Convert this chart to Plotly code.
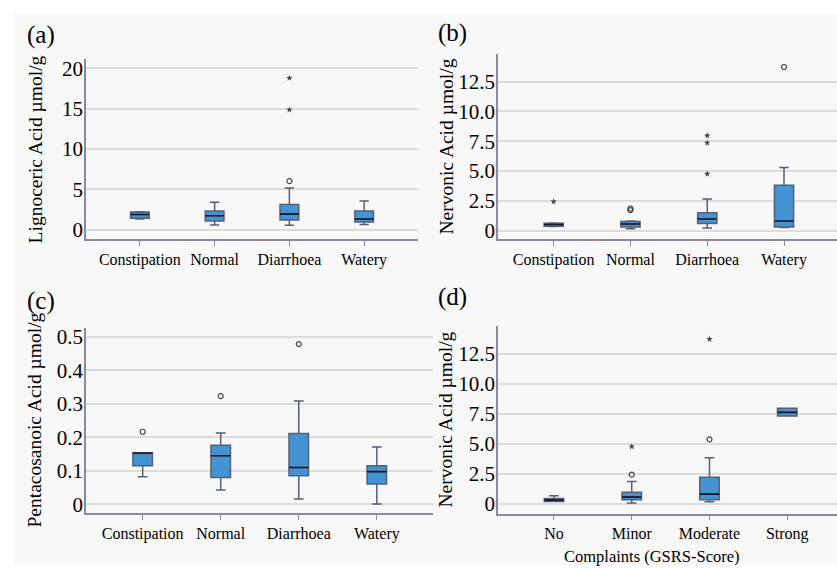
import plotly.graph_objects as go

W, H = 837, 568

# ---------------- data ----------------
stool_categories = ["Constipation", "Normal", "Diarrhoea", "Watery"]
gsrs_categories = ["No", "Minor", "Moderate", "Strong"]

# (a) Lignoceric acid by stool type
lig_q1 = [1.45, 1.10, 1.22, 0.98]
lig_median = [1.90, 1.75, 1.95, 1.34]
lig_q3 = [2.22, 2.32, 3.13, 2.32]
lig_low = [1.35, 0.61, 0.57, 0.65]
lig_high = [2.25, 3.42, 5.17, 3.58]
lig_out_x = ["Diarrhoea"]
lig_out_y = [6.03]
lig_ext_x = ["Diarrhoea", "Diarrhoea"]
lig_ext_y = [14.87, 18.8]

# (b) Nervonic acid by stool type
nerv_q1 = [0.36, 0.30, 0.58, 0.30]
nerv_median = [0.50, 0.55, 0.97, 0.80]
nerv_q3 = [0.61, 0.75, 1.49, 3.79]
nerv_low = [0.34, 0.14, 0.22, 0.25]
nerv_high = [0.63, 0.80, 2.65, 5.28]
nerv_out_x = ["Normal", "Normal", "Watery"]
nerv_out_y = [1.85, 1.72, 13.72]
nerv_ext_x = ["Constipation", "Diarrhoea", "Diarrhoea", "Diarrhoea"]
nerv_ext_y = [2.43, 7.97, 7.36, 4.76]

# (c) Pentacosanoic acid by stool type
pent_q1 = [0.115, 0.080, 0.085, 0.061]
pent_median = [0.153, 0.145, 0.110, 0.0975]
pent_q3 = [0.154, 0.176, 0.211, 0.115]
pent_low = [0.082, 0.0425, 0.016, 0.001]
pent_high = [0.154, 0.2126, 0.308, 0.171]
pent_out_x = ["Constipation", "Normal", "Diarrhoea"]
pent_out_y = [0.2166, 0.323, 0.478]

# (d) Nervonic acid by GSRS complaints
gsrs_q1 = [0.19, 0.33, 0.33, 7.31]
gsrs_median = [0.30, 0.55, 0.80, 7.61]
gsrs_q3 = [0.44, 0.96, 2.20, 7.94]
gsrs_low = [0.18, 0.06, 0.16, 7.31]
gsrs_high = [0.66, 1.84, 3.82, 7.94]
gsrs_out_x = ["Minor", "Moderate"]
gsrs_out_y = [2.42, 5.36]
gsrs_ext_x = ["Minor", "Moderate"]
gsrs_ext_y = [4.75, 13.71]

ticks_a = [0, 5, 10, 15, 20]
ticktext_a = ["0", "5", "10", "15", "20"]
ticks_b = [0, 2.5, 5.0, 7.5, 10.0, 12.5]
ticktext_b = ["0", "2.5", "5.0", "7.5", "10.0", "12.5"]
ticks_c = [0, 0.1, 0.2, 0.3, 0.4, 0.5]
ticktext_c = ["0", "0.1", "0.2", "0.3", "0.4", "0.5"]

panel_labels = ["(a)", "(b)", "(c)", "(d)"]
y_titles = ["Lignoceric Acid µmol/g", "Nervonic Acid µmol/g",
            "Pentacosanoic Acid µmol/g", "Nervonic Acid µmol/g"]
x_title_d = "Complaints (GSRS-Score)"

# ---------------- style ----------------
FONT = "Liberation Serif, Times New Roman, serif"
BG = "#f8f8f8"
BOX_FILL = "#4494d4"
BOX_LINE = "#565e72"
MEDIAN_LINE = "#121a2a"
AXIS_LINE = "#8e8898"
GRID = "#dcdcdc"
OUT_COLOR = "#444444"


def px_x(p):
    return p / W


def px_y(p):
    return 1 - p / H


fig = go.Figure()

panels = [
    dict(ax="", cats=stool_categories, q1=lig_q1, med=lig_median, q3=lig_q3, lo=lig_low, hi=lig_high,
         ox=lig_out_x, oy=lig_out_y, ex=lig_ext_x, ey=lig_ext_y),
    dict(ax="2", cats=stool_categories, q1=nerv_q1, med=nerv_median, q3=nerv_q3, lo=nerv_low, hi=nerv_high,
         ox=nerv_out_x, oy=nerv_out_y, ex=nerv_ext_x, ey=nerv_ext_y),
    dict(ax="3", cats=stool_categories, q1=pent_q1, med=pent_median, q3=pent_q3, lo=pent_low, hi=pent_high,
         ox=pent_out_x, oy=pent_out_y, ex=[], ey=[]),
    dict(ax="4", cats=gsrs_categories, q1=gsrs_q1, med=gsrs_median, q3=gsrs_q3, lo=gsrs_low, hi=gsrs_high,
         ox=gsrs_out_x, oy=gsrs_out_y, ex=gsrs_ext_x, ey=gsrs_ext_y),
]

for p in panels:
    xa, ya = "x" + p["ax"], "y" + p["ax"]
    fig.add_trace(go.Box(
        x=p["cats"], q1=p["q1"], median=p["med"], q3=p["q3"],
        lowerfence=p["lo"], upperfence=p["hi"],
        boxpoints=False, width=0.25, whiskerwidth=0.5,
        fillcolor=BOX_FILL, line=dict(color=BOX_LINE, width=1.5),
        xaxis=xa, yaxis=ya, showlegend=False, hoverinfo="skip",
    ))
    # darker median line drawn on top (degenerate box at the median)
    fig.add_trace(go.Box(
        x=p["cats"], q1=p["med"], median=p["med"], q3=p["med"],
        lowerfence=p["med"], upperfence=p["med"],
        boxpoints=False, width=0.25, whiskerwidth=0,
        fillcolor="rgba(0,0,0,0)", line=dict(color=MEDIAN_LINE, width=1.6),
        xaxis=xa, yaxis=ya, showlegend=False, hoverinfo="skip",
    ))
    if p["ox"]:
        fig.add_trace(go.Scatter(
            x=p["ox"], y=p["oy"], mode="markers", xaxis=xa, yaxis=ya,
            marker=dict(symbol="circle-open", size=5, color=OUT_COLOR, line=dict(width=1.2)),
            showlegend=False, hoverinfo="skip",
        ))
    if p["ex"]:
        fig.add_trace(go.Scatter(
            x=p["ex"], y=p["ey"], mode="markers", xaxis=xa, yaxis=ya,
            marker=dict(symbol="star", size=5, color=OUT_COLOR),
            showlegend=False, hoverinfo="skip",
        ))

# axis geometry (pixel based)
geo = {
    "": dict(x=(86, 418), y=(57, 239), yr=[-1.19, 21.1], xr=[-0.72, 3.72],
             tv=ticks_a, tt=ticktext_a, cats=stool_categories),
    "2": dict(x=(498, 837), y=(51.7, 239), yr=[-0.75, 14.8], xr=[-0.725, 3.69],
              tv=ticks_b, tt=ticktext_b, cats=stool_categories),
    "3": dict(x=(86, 433), y=(328.3, 515.7), yr=[-0.0266, 0.5266], xr=[-0.726, 3.72],
              tv=ticks_c, tt=ticktext_c, cats=stool_categories),
    "4": dict(x=(498, 837), y=(326.7, 516), yr=[-0.82, 14.78], xr=[-0.72, 3.64],
              tv=ticks_b, tt=ticktext_b, cats=gsrs_categories),
}

layout = dict(
    width=W, height=H,
    margin=dict(l=0, r=0, t=0, b=0),
    paper_bgcolor="white", plot_bgcolor=BG,
    font=dict(family=FONT, color="black"),
    showlegend=False, boxmode="overlay",
)

for k, g in geo.items():
    layout["xaxis" + k] = dict(
        domain=[px_x(g["x"][0]), px_x(g["x"][1])],
        anchor="y" + k, type="category",
        categoryorder="array", categoryarray=g["cats"],
        range=g["xr"], showgrid=False, zeroline=False,
        showline=True, linecolor=AXIS_LINE, linewidth=1.5,
        ticks="outside", ticklen=5, tickcolor=AXIS_LINE, tickwidth=1,
        tickfont=dict(family=FONT, size=16, color="black"),
        fixedrange=True,
    )
    layout["yaxis" + k] = dict(
        domain=[px_y(g["y"][1]), px_y(g["y"][0])],
        anchor="x" + k, range=g["yr"],
        tickmode="array", tickvals=g["tv"], ticktext=g["tt"],
        showgrid=True, gridcolor=GRID, gridwidth=1.5, zeroline=False,
        showline=True, linecolor=AXIS_LINE, linewidth=1.5,
        ticks="", ticklabelstandoff=-3,
        tickfont=dict(family=FONT, size=21, color="black"),
        fixedrange=True,
    )

fig.update_layout(**layout)

# gray background area
fig.add_shape(type="rect", xref="paper", yref="paper",
              x0=px_x(14), x1=1, y0=0, y1=px_y(10),
              fillcolor=BG, line=dict(width=0), layer="below")

# panel labels
label_pos = [(25, 32), (436, 30), (25, 301), (436, 297)]
for lab, (lx, ly) in zip(panel_labels, label_pos):
    fig.add_annotation(text=lab, xref="paper", yref="paper", x=px_x(lx), y=px_y(ly),
                       xanchor="left", yanchor="middle", showarrow=False,
                       font=dict(family=FONT, size=25, color="black"))

# y-axis titles
ytitle_pos = [(35, 148), (446, 145), (35, 422), (446, 421)]
for t, (tx, ty) in zip(y_titles, ytitle_pos):
    fig.add_annotation(text=t, xref="paper", yref="paper", x=px_x(tx), y=px_y(ty),
                       xanchor="center", yanchor="middle", textangle=-90, showarrow=False,
                       font=dict(family=FONT, size=19.5, color="black"))

# x-axis title for (d)
fig.add_annotation(text=x_title_d, xref="paper", yref="paper", x=px_x(651.5), y=px_y(559),
                   xanchor="center", yanchor="middle", showarrow=False,
                   font=dict(family=FONT, size=16.5, color="black"))

fig.write_html(
    "out.html",
    config={"displayModeBar": False},
    post_script="document.body.style.margin='0';document.body.style.overflow='hidden';",
)
